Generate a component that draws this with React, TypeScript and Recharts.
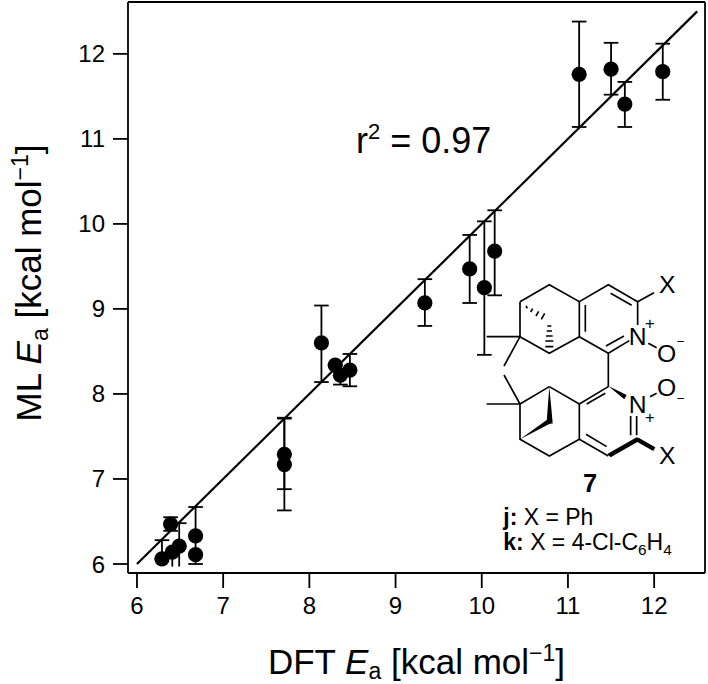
import { ErrorBar, ReferenceLine, Scatter, ScatterChart, XAxis, YAxis } from "recharts";

const FONT = '"Liberation Sans", Arial, sans-serif';

// DFT vs ML activation energies
const dftValues = [6.29, 6.39, 6.41, 6.49, 6.68, 6.68, 7.71, 7.71, 8.14, 8.3, 8.36, 8.47, 9.34, 9.86, 10.03, 10.15, 11.13, 11.5, 11.66, 12.1];
const mlValues = [6.06, 6.47, 6.14, 6.21, 6.33, 6.11, 7.29, 7.17, 8.6, 8.34, 8.22, 8.28, 9.07, 9.47, 9.25, 9.68, 11.76, 11.82, 11.41, 11.79];
const lowerValues = [6.06, 6.39, 6.14, 6.21, 6.0, 6.11, 6.88, 6.63, 8.14, 8.34, 8.11, 8.09, 8.8, 9.07, 8.46, 9.16, 11.14, 11.52, 11.14, 11.46];
const upperValues = [6.28, 6.55, 6.14, 6.48, 6.67, 6.11, 7.72, 7.71, 9.04, 8.34, 8.22, 8.47, 9.35, 9.87, 10.03, 10.16, 12.38, 12.13, 11.67, 12.12];

// lower stems that run out to the axis without a cap
const stemDft = [6.41, 6.49];
const stemMl = [6.14, 6.21];
const stemLower = [5.97, 5.97];

const xTicks = [6, 7, 8, 9, 10, 11, 12];
const yTicks = [6, 7, 8, 9, 10, 11, 12];
const xDomain = [5.896, 12.59];
const yDomain = [5.894, 12.61];
const fitStart = 6;
const fitEnd = 12.5;

const points = dftValues.map((x, i) => ({ x, y: mlValues[i], low: lowerValues[i], high: upperValues[i] }));
const stems = stemDft.map((x, i) => ({ x, y: stemMl[i], low: stemLower[i], high: stemMl[i] }));

// ErrorBar may hand us the raw row or the scatter point with the row on payload
const errorRange = (d: any) => {
  const row = d.payload ?? d;
  return [row.y - row.low, row.high - row.y];
};

function Dot({ cx, cy }: any) {
  return <circle cx={cx} cy={cy} r={7.6} fill="#000" />;
}

function NoDot() {
  return <g />;
}

function XTitle() {
  return (
    <text x={416.5} y={674} textAnchor="middle" fontFamily={FONT} fontSize={35} fill="#000">
      DFT <tspan fontStyle="italic">E</tspan>
      <tspan fontSize={23} dy={5}>a</tspan>
      <tspan dy={-5}> [kcal mol</tspan>
      <tspan fontSize={23} dy={-13}>−1</tspan>
      <tspan dy={13}>]</tspan>
    </text>
  );
}

function YTitle() {
  return (
    <text transform="translate(41 283) rotate(-90)" textAnchor="middle" fontFamily={FONT} fontSize={35} fill="#000">
      ML <tspan fontStyle="italic">E</tspan>
      <tspan fontSize={23} dy={7}>a</tspan>
      <tspan dy={-7}> [kcal mol</tspan>
      <tspan fontSize={23} dy={-13}>−1</tspan>
      <tspan dy={13}>]</tspan>
    </text>
  );
}

// compound 7 drawing, in 3x crop units
const BONDS = [
  "M120 155L208 104L298 155L385 104L473 155L473 225",
  "M392 130L455 166",
  "M298 155L298 260L385 310L385 410",
  "M316 165L316 245",
  "M385 310L448 272",
  "M378 288L432 258",
  "M298 260L208 310L120 260L120 155",
  "M120 260L20 260M120 260L72 348",
  "M473 155L522 128",
  "M505 280L530 293",
  "M385 410L298 462L298 568L385 618",
  "M320 462L376 430",
  "M318 553L380 590",
  "M208 410L298 462M208 410L120 462L120 568L208 618L298 568",
  "M120 462L20 462M120 462L72 375",
  "M452 498L452 556M470 498L470 556",
  "M510 440L530 430",
];
const WEDGES = [
  "M385 408L440 435L433 448Z",
  "M208 410L200 515L218 518Z",
  "M120 568L200 510L220 520L208 522Z",
  "M382 612L470 562L476 574L392 622Z",
  "M473 562L526 592L520 603L468 574Z",
];
const HASHES = [
  "M138 168L142 175M158 176L152 186M176 184L168 198M194 190L184 208",
  "M202 228L214 228M200 243L216 243M198 258L218 258M196 273L220 273M196 290L220 290",
];

function Compound() {
  const label = { fontFamily: FONT, fill: "#000" };
  return (
    <svg width={708} height={684} style={{ position: "absolute", left: 0, top: 0, pointerEvents: "none" }}>
      <text x={356} y={153} fontFamily={FONT} fontSize={36} fill="#000">
        r<tspan fontSize={22} dy={-14}>2</tspan>
        <tspan dy={14}> = 0.97</tspan>
      </text>
      <g transform="translate(480 250) scale(0.3333)">
        {BONDS.map((d) => (
          <path key={d} d={d} fill="none" stroke="#000" strokeWidth={5} />
        ))}
        {WEDGES.map((d) => (
          <path key={d} d={d} fill="#000" />
        ))}
        {HASHES.map((d) => (
          <path key={d} d={d} fill="none" stroke="#000" strokeWidth={5} />
        ))}
        <text x={446} y={285} fontSize={74} {...label}>N</text>
        <text x={510} y={238} fontSize={50} textAnchor="middle" {...label}>+</text>
        <text x={531} y={336} fontSize={74} {...label}>O</text>
        <text x={602} y={288} fontSize={40} textAnchor="middle" {...label}>−</text>
        <text x={537} y={130} fontSize={74} {...label}>X</text>
        <text x={446} y={490} fontSize={74} {...label}>N</text>
        <text x={510} y={518} fontSize={50} textAnchor="middle" {...label}>+</text>
        <text x={531} y={438} fontSize={74} {...label}>O</text>
        <text x={602} y={460} fontSize={40} textAnchor="middle" {...label}>−</text>
        <text x={537} y={642} fontSize={74} {...label}>X</text>
        <text x={330} y={725} fontSize={76} fontWeight="bold" textAnchor="middle" {...label}>7</text>
        <text x={70} y={825} fontSize={69} {...label}>
          <tspan fontWeight="bold">j:</tspan> X = Ph
        </text>
        <text x={70} y={900} fontSize={69} {...label}>
          <tspan fontWeight="bold">k:</tspan> X = 4-Cl-C
          <tspan fontSize={46} dy={14}>6</tspan>
          <tspan dy={-14}>H</tspan>
          <tspan fontSize={46} dy={14}>4</tspan>
        </text>
      </g>
    </svg>
  );
}

export default function App() {
  const tickStyle = { fontFamily: FONT, fontSize: 24, fill: "#000" };
  const lineStyle = { stroke: "#000", strokeWidth: 1.8 };
  return (
    <div style={{ position: "absolute", left: 0, top: 0, width: 708, height: 684, background: "#fff" }}>
      <ScatterChart width={708} height={684} margin={{ top: 2, right: 3, bottom: 0, left: 0 }}>
        <XAxis
          type="number"
          dataKey="x"
          domain={xDomain}
          ticks={xTicks}
          allowDataOverflow
          height={111}
          tickSize={15}
          tickMargin={9}
          axisLine={lineStyle}
          tickLine={lineStyle}
          tick={tickStyle}
          label={<XTitle />}
        />
        <YAxis
          type="number"
          dataKey="y"
          domain={yDomain}
          ticks={yTicks}
          allowDataOverflow
          width={128}
          tickSize={15}
          tickMargin={8}
          axisLine={lineStyle}
          tickLine={lineStyle}
          tick={tickStyle}
          label={<YTitle />}
        />
        <ReferenceLine x={xDomain[1]} stroke="#000" strokeWidth={1.8} />
        <ReferenceLine y={yDomain[1]} stroke="#000" strokeWidth={1.8} />
        <ReferenceLine
          segment={[
            { x: fitStart, y: fitStart },
            { x: fitEnd, y: fitEnd },
          ]}
          stroke="#000"
          strokeWidth={2.2}
        />
        <Scatter data={stems} shape={NoDot} isAnimationActive={false}>
          <ErrorBar dataKey={errorRange} direction="y" width={0} stroke="#000" strokeWidth={1.8} isAnimationActive={false} />
        </Scatter>
        <Scatter data={points} shape={Dot} isAnimationActive={false}>
          <ErrorBar dataKey={errorRange} direction="y" width={7.3} stroke="#000" strokeWidth={1.8} isAnimationActive={false} />
        </Scatter>
      </ScatterChart>
      <Compound />
    </div>
  );
}
